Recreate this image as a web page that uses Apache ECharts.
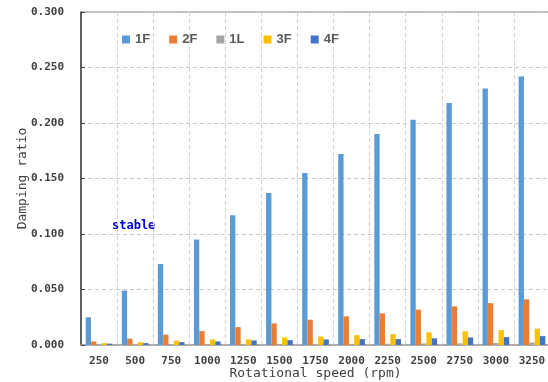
<!DOCTYPE html>
<html><head><meta charset="utf-8">
<script src="https://cdn.jsdelivr.net/npm/echarts@6/dist/echarts.min.js"></script>
<style>html,body{margin:0;padding:0;background:#fff}#c{width:548px;height:382px}</style>
</head><body><div id="c"></div>
<script>
const categories = ['250','500','750','1000','1250','1500','1750','2000','2250','2500','2750','3000','3250'];
const s1F = [0.025,0.049,0.073,0.095,0.117,0.137,0.155,0.172,0.190,0.203,0.218,0.231,0.242];
const s2F = [0.0032,0.0057,0.0093,0.0125,0.0161,0.0195,0.0228,0.0258,0.0285,0.0318,0.0348,0.0377,0.0411];
const s1L = [0.0003,0.0004,0.0005,0.0006,0.0007,0.0008,0.0009,0.0010,0.0011,0.0013,0.0015,0.0018,0.0022];
const s3F = [0.0017,0.0026,0.0039,0.0050,0.0050,0.0068,0.0077,0.0089,0.0098,0.0114,0.0123,0.0134,0.0147];
const s4F = [0.0012,0.0017,0.0026,0.0032,0.0041,0.0044,0.0050,0.0053,0.0053,0.0060,0.0068,0.0071,0.0080];
const yTicks = [0, 0.05, 0.1, 0.15, 0.2, 0.25, 0.3];
const seriesNames = ['1F','2F','1L','3F','4F'];
const seriesData = [s1F,s2F,s1L,s3F,s4F];
const colors = ['#5B9BD5','#ED7D31','#A5A5A5','#FFC000','#4472C4'];
const mono = 'DejaVu Sans Mono';
const chart = echarts.init(document.getElementById('c'));
chart.setOption({
  animation:false,
  grid:{left:81,right:-2,top:12,bottom:37,containLabel:false,outerBoundsMode:'none',show:true,borderColor:'#7f7f7f',borderWidth:1,backgroundColor:'transparent'},
  legend:{left:117,top:28,itemWidth:8,itemHeight:8,itemGap:19,icon:'rect',
    textStyle:{color:'#595959',fontFamily:'Liberation Sans',fontWeight:'bold',fontSize:13},
    data:seriesNames},
  xAxis:{type:'category',data:categories,name:'Rotational speed (rpm)',nameLocation:'middle',nameGap:22,nameMoveOverlap:false,
    nameTextStyle:{color:'#404040',fontFamily:mono,fontSize:13},
    axisLine:{lineStyle:{color:'#a6a6a6',width:1.5}},axisTick:{show:false},
    axisLabel:{color:'#404040',fontFamily:mono,fontWeight:'bold',fontSize:11,margin:11},
    splitLine:{show:true,interval:0,lineStyle:{color:'#d0d0d0',type:[4,3]}}},
  yAxis:{type:'value',min:0,max:0.3,interval:0.05,name:'Damping ratio',nameLocation:'middle',nameGap:52,nameMoveOverlap:false,
    nameTextStyle:{color:'#404040',fontFamily:mono,fontSize:13},
    axisLine:{show:true,lineStyle:{color:'#404040',width:1.5}},
    axisTick:{show:true,inside:true,length:4,lineStyle:{color:'#404040'}},
    axisLabel:{color:'#404040',fontFamily:mono,fontWeight:'bold',fontSize:11,margin:17,
      formatter:v=>v.toFixed(3)},
    splitLine:{lineStyle:{color:'#c8c8c8',type:[4,3]}}},
  series:seriesNames.map((n,i)=>({name:n,type:'bar',data:seriesData[i],itemStyle:{color:colors[i]},
    barGap:'0%',barCategoryGap:'26%'})),
  graphic:[{type:'text',left:112,top:220,style:{text:'stable',fill:'#0000e0',font:'bold 12px "DejaVu Sans Mono"'}}]
});
</script></body></html>
